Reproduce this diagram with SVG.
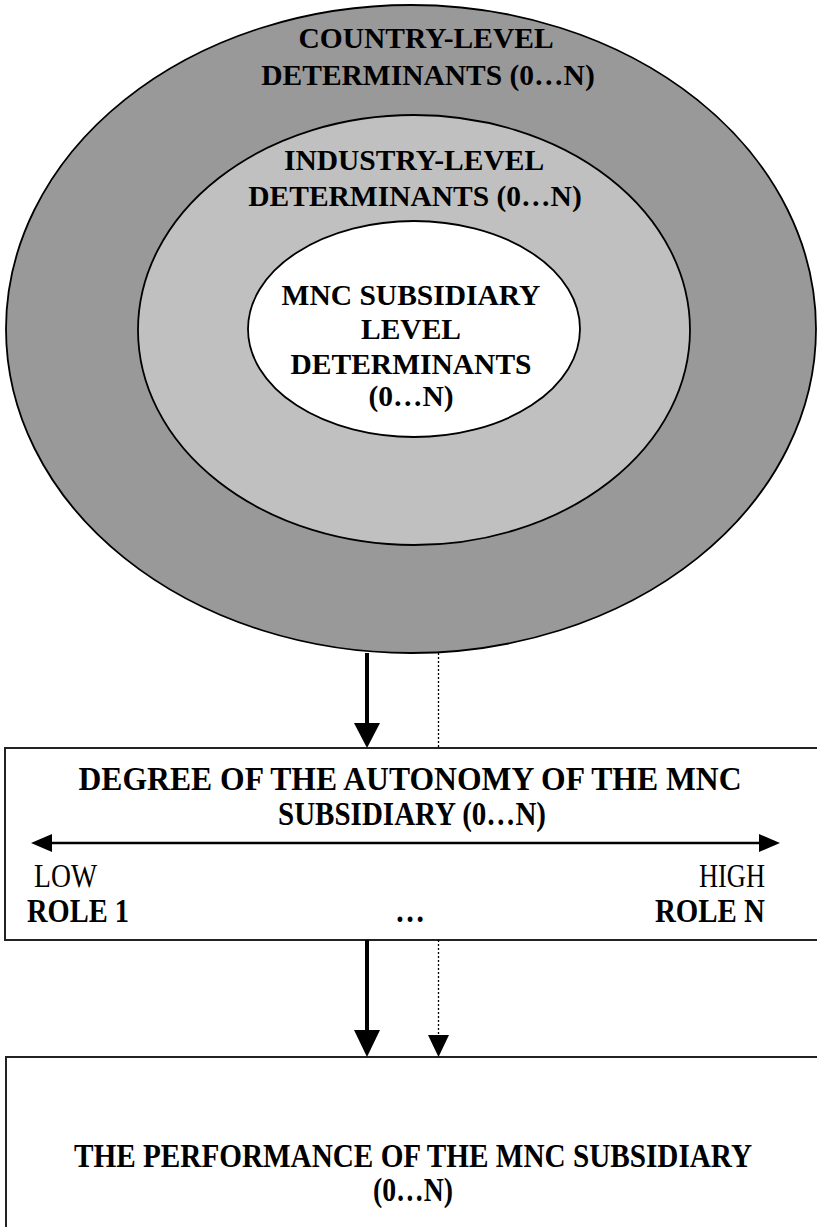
<svg xmlns="http://www.w3.org/2000/svg" width="817" height="1227" viewBox="0 0 817 1227">
  <style>
    .ring { stroke: #000; stroke-width: 1.8; }
    .head { font-family: "Liberation Serif", "Times New Roman", serif; font-weight: bold; font-size: 29.5px; fill: #000; text-anchor: middle; }
    .box { fill: #fff; stroke: #222; stroke-width: 2; }
    .cond { font-family: "Liberation Serif", "Times New Roman", serif; font-size: 34px; fill: #000; }
    .b { font-weight: bold; }
    .solid { stroke: #000; stroke-width: 4; fill: none; }
    .dots { stroke: #000; stroke-width: 1.3; stroke-dasharray: 2 2; fill: none; }
  </style>
  <rect width="817" height="1227" fill="#fff"/>

  <!-- nested determinant levels -->
  <g id="country-level">
    <ellipse class="ring" cx="411" cy="329" rx="405" ry="324" fill="#999999"/>
    <text class="head" x="426" y="48">COUNTRY-LEVEL</text>
    <text class="head" x="428" y="85">DETERMINANTS (0…N)</text>
  </g>
  <g id="industry-level">
    <ellipse class="ring" cx="414" cy="330" rx="276" ry="215" fill="#c0c0c0"/>
    <text class="head" x="414" y="170">INDUSTRY-LEVEL</text>
    <text class="head" x="415" y="206">DETERMINANTS (0…N)</text>
  </g>
  <g id="subsidiary-level">
    <ellipse class="ring" cx="414" cy="329" rx="166" ry="108" fill="#fff"/>
    <text class="head" x="411" y="305">MNC SUBSIDIARY</text>
    <text class="head" x="411" y="339">LEVEL</text>
    <text class="head" x="411" y="374">DETERMINANTS</text>
    <text class="head" x="411" y="406">(0…N)</text>
  </g>

  <!-- autonomy box -->
  <g id="autonomy">
    <rect class="box" x="5" y="748" width="820" height="192"/>
    <text class="cond b" x="410" y="790" text-anchor="middle" textLength="663" lengthAdjust="spacingAndGlyphs">DEGREE OF THE AUTONOMY OF THE MNC</text>
    <text class="cond b" x="412" y="825" text-anchor="middle" textLength="268" lengthAdjust="spacingAndGlyphs">SUBSIDIARY (0…N)</text>
    <line x1="48" y1="843" x2="762" y2="843" stroke="#000" stroke-width="2.5"/>
    <polygon points="31,843 52,834 52,852" fill="#000"/>
    <polygon points="780,843 759,834 759,852" fill="#000"/>
    <text class="cond" x="34" y="887" textLength="63" lengthAdjust="spacingAndGlyphs">LOW</text>
    <text class="cond" x="765" y="887" text-anchor="end" textLength="66" lengthAdjust="spacingAndGlyphs">HIGH</text>
    <text class="cond b" x="27" y="922" textLength="102" lengthAdjust="spacingAndGlyphs">ROLE 1</text>
    <text class="cond b" x="410" y="922" text-anchor="middle" textLength="30" lengthAdjust="spacingAndGlyphs">…</text>
    <text class="cond b" x="765" y="922" text-anchor="end" textLength="110" lengthAdjust="spacingAndGlyphs">ROLE N</text>
  </g>

  <!-- performance box -->
  <g id="performance">
    <rect class="box" x="6" y="1057" width="820" height="200"/>
    <text class="cond b" x="413" y="1167" text-anchor="middle" textLength="678" lengthAdjust="spacingAndGlyphs">THE PERFORMANCE OF THE MNC SUBSIDIARY</text>
    <text class="cond b" x="413" y="1201" text-anchor="middle" textLength="80" lengthAdjust="spacingAndGlyphs">(0…N)</text>
  </g>

  <!-- connectors -->
  <g id="connectors">
    <line class="solid" x1="367" y1="653" x2="367" y2="725"/>
    <polygon points="354,723 380,723 367,748" fill="#000"/>
    <line class="dots" x1="438.5" y1="653" x2="438.5" y2="748"/>
    <line class="solid" x1="367" y1="940" x2="367" y2="1032"/>
    <polygon points="354,1030 380,1030 367,1057" fill="#000"/>
    <line class="dots" x1="438.5" y1="940" x2="438.5" y2="1037"/>
    <polygon points="428,1035 449,1035 438.5,1057" fill="#000"/>
  </g>
</svg>
